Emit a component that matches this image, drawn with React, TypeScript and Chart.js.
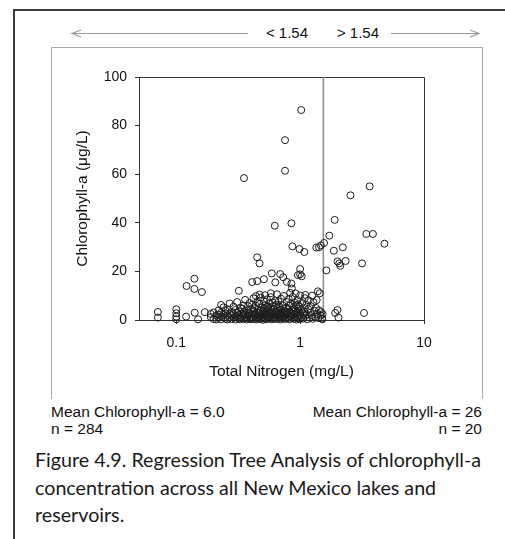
import React, { useEffect, useRef } from "react";
import { Chart, registerables } from "chart.js";

Chart.register(...registerables);

// ---------- data ----------
const SPLIT_TN = 1.54;
const SPLIT_LABELS = ["< 1.54", "> 1.54"];
const X_TICKS = [0.1, 1, 10];
const X_MIN = 0.05;
const X_MAX = 10;
const Y_MIN = 0;
const Y_MAX = 100;
const Y_STEP = 20;
const X_TITLE = "Total Nitrogen (mg/L)";
const Y_TITLE = "Chlorophyll-a (\u03bcg/L)";
const LEFT_NOTE = ["Mean Chlorophyll-a = 6.0", "n = 284"];
const RIGHT_NOTE = ["Mean Chlorophyll-a = 26", "n = 20"];
const CAPTION = [
  "Figure 4.9. Regression Tree Analysis of chlorophyll-a",
  "concentration across all New Mexico lakes and",
  "reservoirs.",
];

// lakes with TN > 1.54 mg/L  [TN, Chl-a]
const highGroup: [number, number][] = [
  [3.64, 55.0], [2.55, 51.3], [1.90, 41.2], [1.72, 34.7], [3.42, 35.4],
  [3.87, 35.4], [4.79, 31.4], [1.56, 31.7], [1.87, 28.5], [2.21, 29.9],
  [2.00, 24.1], [2.07, 23.3], [2.11, 22.3], [2.33, 24.3], [3.16, 23.3],
  [1.63, 20.4], [2.00, 4.1], [1.92, 2.9], [2.04, 1.0], [3.28, 2.9],
];

// lakes with TN < 1.54 mg/L, higher chlorophyll values
const lowUpper: [number, number][] = [
  [1.02, 86.4], [0.755, 74.0], [0.755, 61.4], [0.352, 58.4], [0.624, 38.8],
  [0.85, 39.8], [0.866, 30.3], [0.987, 29.2], [1.08, 28.0], [1.35, 29.8],
  [1.42, 29.9], [1.47, 30.7], [0.45, 25.8], [0.47, 23.3], [1.0, 21.0],
  [0.96, 18.5], [1.0, 18.8], [1.03, 18.0], [0.59, 19.2], [0.69, 18.9],
  [0.73, 17.6], [0.51, 16.8], [0.41, 15.6], [0.45, 16.0], [0.63, 15.5],
  [0.78, 15.7], [0.85, 15.0], [0.857, 13.0], [0.32, 12.0], [1.39, 11.8],
  [0.14, 17.0], [0.121, 14.0], [0.14, 12.8], [0.161, 11.5],
];

// lakes with very low TN
const lowFar: [number, number][] = [
  [0.071, 3.3], [0.071, 1.0], [0.10, 4.4], [0.10, 2.8], [0.10, 1.4],
  [0.10, 0.3], [0.12, 1.4], [0.141, 3.0], [0.15, 0.3], [0.17, 3.2],
];

// dense band of low chlorophyll lakes
const lowBand: [number, number][] = [
  [0.19, 1.2], [0.19, 2.5], [0.20, 0.4], [0.20, 3.1], [0.21, 1.8], [0.21, 0.2],
  [0.22, 2.2], [0.22, 4.0], [0.22, 0.9], [0.23, 1.5], [0.23, 3.0], [0.23, 0.3],
  [0.24, 2.0], [0.24, 5.2], [0.24, 1.0], [0.25, 0.5], [0.25, 2.7], [0.25, 3.8],
  [0.23, 6.2], [0.26, 4.4], [0.26, 1.9], [0.26, 0.2], [0.27, 2.5], [0.27, 6.8],

  [0.27, 1.1], [0.28, 0.4], [0.28, 3.3], [0.28, 1.8], [0.29, 5.5], [0.29, 0.9],
  [0.29, 2.4], [0.30, 1.3], [0.30, 4.1], [0.30, 0.2], [0.31, 2.9], [0.31, 7.4],
  [0.31, 1.6], [0.32, 0.6], [0.32, 3.6], [0.32, 2.1], [0.33, 5.0], [0.33, 1.0],
  [0.33, 0.3], [0.34, 2.6], [0.34, 4.6], [0.34, 1.4], [0.35, 0.5], [0.35, 3.2],
  [0.35, 6.0], [0.35, 1.9], [0.36, 8.3], [0.36, 0.8], [0.36, 2.3], [0.37, 4.0],
  [0.37, 1.2], [0.37, 0.2], [0.38, 3.0], [0.38, 5.7], [0.38, 1.7], [0.39, 0.6],
  [0.39, 2.7], [0.39, 7.0], [0.40, 1.4], [0.40, 4.4],

  [0.40, 0.3], [0.41, 2.2], [0.41, 6.3], [0.41, 1.0], [0.42, 3.5], [0.42, 0.5],
  [0.42, 8.9], [0.43, 1.8], [0.43, 4.8], [0.43, 2.6], [0.44, 0.2], [0.44, 5.9],
  [0.44, 1.3], [0.45, 3.1], [0.45, 7.5], [0.45, 0.8], [0.46, 2.0], [0.46, 4.3],
  [0.46, 1.1], [0.47, 0.4], [0.47, 6.6], [0.47, 2.9], [0.48, 1.6], [0.48, 3.8],
  [0.48, 9.2], [0.49, 0.6], [0.49, 2.4], [0.49, 5.1], [0.50, 1.2], [0.50, 3.4],
  [0.50, 0.1], [0.51, 7.8], [0.51, 2.0], [0.51, 4.6], [0.52, 0.9], [0.52, 2.8],
  [0.52, 6.1], [0.53, 1.5], [0.53, 3.9], [0.53, 0.3], [0.54, 5.4], [0.54, 2.3],
  [0.54, 8.5], [0.55, 1.0], [0.55, 3.2], [0.55, 0.5], [0.55, 4.9], [0.44, 9.8],
  [0.52, 10.2], [0.47, 10.5],

  [0.56, 2.1], [0.56, 6.8], [0.57, 0.7], [0.57, 3.6], [0.57, 1.4], [0.58, 5.2],
  [0.58, 2.6], [0.58, 9.4], [0.59, 0.3], [0.59, 4.1], [0.60, 1.8], [0.60, 7.2],
  [0.60, 3.0], [0.61, 0.9], [0.61, 5.8], [0.62, 2.3], [0.62, 4.5], [0.62, 1.2],
  [0.63, 8.0], [0.63, 0.4], [0.64, 3.4], [0.64, 6.3], [0.65, 1.6], [0.65, 2.8],
  [0.65, 10.6], [0.66, 0.6], [0.66, 4.8], [0.67, 2.0], [0.67, 7.6], [0.68, 1.1],
  [0.68, 3.7], [0.68, 5.5], [0.69, 0.2], [0.69, 2.5], [0.70, 8.8], [0.70, 1.5],
  [0.70, 4.2], [0.71, 3.1], [0.71, 0.8], [0.72, 6.1], [0.72, 2.0], [0.73, 1.0],
  [0.73, 4.6], [0.74, 9.9], [0.74, 2.7], [0.75, 0.4], [0.75, 3.5], [0.58, 11.0],

  [0.76, 1.7], [0.77, 5.0], [0.77, 2.4], [0.78, 0.6], [0.78, 7.4], [0.79, 3.3],
  [0.80, 1.2], [0.80, 4.4], [0.81, 2.1], [0.81, 8.6], [0.82, 0.3], [0.82, 5.9],
  [0.83, 3.0], [0.84, 1.5], [0.84, 6.7], [0.85, 2.6], [0.85, 0.9], [0.86, 4.0],
  [0.87, 9.5], [0.87, 1.9], [0.88, 3.6], [0.89, 0.5], [0.89, 5.3], [0.90, 2.3],
  [0.91, 7.1], [0.91, 1.1], [0.92, 3.9], [0.93, 0.2], [0.93, 6.0], [0.94, 2.8],
  [0.95, 1.4], [0.95, 8.2], [0.96, 4.7], [0.97, 0.7], [0.97, 3.2], [0.98, 5.6],
  [0.99, 1.8], [1.00, 2.5], [1.00, 10.1], [0.92, 10.9], [0.83, 11.2], [0.96, 6.4],
  [1.00, 0.4],

  [1.02, 4.2], [1.03, 1.3], [1.04, 7.0], [1.05, 2.9], [1.06, 0.6], [1.07, 5.1],
  [1.08, 3.4], [1.09, 9.0], [1.10, 1.7], [1.12, 6.2], [1.13, 2.2], [1.14, 0.3],
  [1.16, 4.5], [1.17, 8.1], [1.19, 1.0], [1.21, 3.0], [1.22, 5.7], [1.24, 2.0],
  [1.26, 0.5], [1.28, 7.3], [1.30, 3.8], [1.32, 1.4], [1.34, 5.0], [1.36, 8.2],
  [1.38, 2.5], [1.40, 0.8], [1.42, 4.0], [1.44, 11.0], [1.46, 1.9], [1.48, 3.2],
  [1.50, 0.6], [1.52, 2.4], [1.51, 0.3], [1.10, 10.3], [1.25, 10.0],
];

// ---------- styles ----------
const FONT = '"Liberation Sans", Arial, Helvetica, sans-serif';
const CAPTION_FONT = 'Lato, "Open Sans", sans-serif';
const INK = "#111";

const toPoints = (arr: [number, number][]) => arr.map(([x, y]) => ({ x, y }));

const plotFrame = {
  id: "plotFrame",
  beforeDatasetsDraw(chart: any) {
    const { ctx, chartArea: a, scales } = chart;
    ctx.save();
    ctx.strokeStyle = "#333";
    ctx.lineWidth = 1;
    ctx.beginPath();
    ctx.moveTo(Math.round(a.left) + 0.5, Math.round(a.top) + 0.5);
    ctx.lineTo(Math.round(a.right) + 0.5, Math.round(a.top) + 0.5);
    ctx.lineTo(Math.round(a.right) + 0.5, Math.round(a.bottom) + 0.5);
    ctx.stroke();
    const sx = scales.x.getPixelForValue(SPLIT_TN);
    ctx.strokeStyle = "#8a8a8a";
    ctx.lineWidth = 1.5;
    ctx.beginPath();
    ctx.moveTo(sx, a.top);
    ctx.lineTo(sx, a.bottom);
    ctx.stroke();
    ctx.restore();
  },
};

function Scatter() {
  const ref = useRef<HTMLCanvasElement | null>(null);
  useEffect(() => {
    if (!ref.current) return;
    const pointStyle = {
      pointRadius: 3.5,
      pointBorderWidth: 1,
      pointBorderColor: "#1c1c1c",
      pointBackgroundColor: "rgba(0,0,0,0)",
      showLine: false,
      clip: false as any,
    };
    const chart = new Chart(ref.current, {
      type: "scatter",
      data: {
        datasets: [
          { label: "TN < 1.54", data: toPoints([...lowFar, ...lowBand, ...lowUpper]), ...pointStyle },
          { label: "TN > 1.54", data: toPoints(highGroup), ...pointStyle },
        ],
      },
      options: {
        responsive: false,
        animation: false,
        devicePixelRatio: 1,
        layout: { padding: { left: 0, right: 57, top: 29, bottom: 0 } },
        plugins: { legend: { display: false }, tooltip: { enabled: false } },
        scales: {
          x: {
            type: "logarithmic",
            min: X_MIN,
            max: X_MAX,
            afterBuildTicks: (s: any) => {
              s.ticks = X_TICKS.map((v) => ({ value: v }));
            },
            afterFit: (s: any) => {
              s.height = 78;
            },
            ticks: {
              autoSkip: false,
              maxRotation: 0,
              padding: 10.5,
              color: INK,
              font: { family: FONT, size: 14 },
              callback: (v: any) => String(v),
            },
            grid: { drawOnChartArea: false, drawTicks: true, tickLength: 4, color: "#333" },
            border: { display: true, color: "#333", width: 1 },
            title: {
              display: true,
              text: X_TITLE,
              color: INK,
              font: { family: FONT, size: 15.5 },
              padding: { top: 0, bottom: 16.7 },
            },
          },
          y: {
            type: "linear",
            min: Y_MIN,
            max: Y_MAX,
            afterFit: (s: any) => {
              s.width = 87;
            },
            ticks: {
              stepSize: Y_STEP,
              padding: 8,
              color: INK,
              font: { family: FONT, size: 14 },
            },
            grid: { drawOnChartArea: false, drawTicks: true, tickLength: 4, color: "#333" },
            border: { display: true, color: "#333", width: 1 },
            title: {
              display: true,
              text: Y_TITLE,
              color: INK,
              font: { family: FONT, size: 15.5 },
              padding: { top: 21.7, bottom: 0 },
            },
          },
        },
      } as any,
      plugins: [plotFrame],
    });
    return () => chart.destroy();
  }, []);
  return (
    <canvas
      ref={ref}
      width={429}
      height={350}
      style={{ position: "absolute", left: 52, top: 48, width: 429, height: 350 }}
    />
  );
}

const textAt = (
  text: string,
  left: number | undefined,
  right: number | undefined,
  centerY: number,
  size: number,
  family: string,
  lh: number,
  color = INK
) => (
  <div
    key={text + centerY}
    style={{
      position: "absolute",
      left,
      right,
      top: centerY - lh / 2,
      height: lh,
      lineHeight: lh + "px",
      fontSize: size,
      fontFamily: family,
      color,
      whiteSpace: "nowrap",
    }}
  >
    {text}
  </div>
);

export default function App() {
  return (
    <div
      style={{
        position: "fixed",
        left: 0,
        top: 0,
        width: 505,
        height: 539,
        overflow: "hidden",
        background: "#fff",
      }}
    >
      {/* outer document frame */}
      <div
        style={{
          position: "absolute",
          left: 13,
          top: 9,
          width: 700,
          height: 700,
          border: "2px solid #3a3a3a",
        }}
      />
      {/* inner figure box */}
      <div
        style={{
          position: "absolute",
          left: 51,
          top: 47,
          width: 430,
          height: 351,
          borderTop: "1px solid #aaa",
          borderLeft: "1px solid #aaa",
          borderRight: "1px solid #aaa",
        }}
      />
      {/* split arrows */}
      <svg style={{ position: "absolute", left: 0, top: 0 }} width={505} height={60}>
        <line x1={72} y1={33.5} x2={248} y2={33.5} stroke="#9a9a9a" strokeWidth={1.2} />
        <polyline points="81,30 72,33.5 81,37" fill="none" stroke="#9a9a9a" strokeWidth={1.2} />
        <line x1={391} y1={33.5} x2={479} y2={33.5} stroke="#9a9a9a" strokeWidth={1.2} />
        <polyline points="470,30 479,33.5 470,37" fill="none" stroke="#9a9a9a" strokeWidth={1.2} />
      </svg>
      <div
        style={{
          position: "absolute",
          left: 247,
          width: 80,
          top: 24,
          lineHeight: "18px",
          textAlign: "center",
          fontFamily: FONT,
          fontSize: 15,
          color: INK,
        }}
      >
        {SPLIT_LABELS[0]}
      </div>
      <div
        style={{
          position: "absolute",
          left: 318,
          width: 80,
          top: 24,
          lineHeight: "18px",
          textAlign: "center",
          fontFamily: FONT,
          fontSize: 15,
          color: INK,
        }}
      >
        {SPLIT_LABELS[1]}
      </div>

      <Scatter />

      {/* node notes */}
      {textAt(LEFT_NOTE[0], 51, undefined, 411.5, 15.5, FONT, 18)}
      {textAt(LEFT_NOTE[1], 51, undefined, 429, 15.5, FONT, 18)}
      {textAt(RIGHT_NOTE[0], undefined, 505 - 482, 411.5, 15.5, FONT, 18)}
      {textAt(RIGHT_NOTE[1], undefined, 505 - 482, 429, 15.5, FONT, 18)}

      {/* caption */}
      {textAt(CAPTION[0], 35, undefined, 460, 19.7, CAPTION_FONT, 26, "#1a1a1a")}
      {textAt(CAPTION[1], 35, undefined, 487.5, 19.7, CAPTION_FONT, 26, "#1a1a1a")}
      {textAt(CAPTION[2], 35, undefined, 515, 19.7, CAPTION_FONT, 26, "#1a1a1a")}
    </div>
  );
}
